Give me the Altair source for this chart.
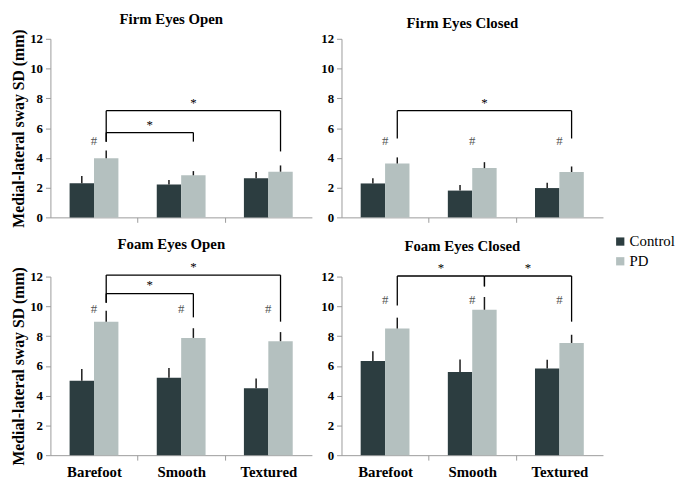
import json
import altair as alt
import pandas as pd

# ---------------- data ----------------
categories = ["Barefoot", "Smooth", "Textured"]
groups = ["Control", "PD"]
panel_titles = ["Firm Eyes Open", "Firm Eyes Closed", "Foam Eyes Open", "Foam Eyes Closed"]
y_ticks = [0, 2, 4, 6, 8, 10, 12]

firm_open_control = [2.30, 2.21, 2.63]
firm_open_control_err = [0.48, 0.31, 0.42]
firm_open_pd = [3.97, 2.83, 3.07]
firm_open_pd_err = [0.53, 0.28, 0.42]

firm_closed_control = [2.28, 1.80, 1.97]
firm_closed_control_err = [0.35, 0.37, 0.35]
firm_closed_pd = [3.62, 3.31, 3.05]
firm_closed_pd_err = [0.41, 0.40, 0.37]

foam_open_control = [5.00, 5.20, 4.50]
foam_open_control_err = [0.79, 0.66, 0.66]
foam_open_pd = [8.97, 7.88, 7.66]
foam_open_pd_err = [0.73, 0.65, 0.61]

foam_closed_control = [6.32, 5.59, 5.83]
foam_closed_control_err = [0.66, 0.84, 0.58]
foam_closed_pd = [8.51, 9.77, 7.54]
foam_closed_pd_err = [0.73, 0.86, 0.55]

# "#" marks (group difference) per category and their height
firm_open_hash = [True, False, False]
firm_closed_hash = [True, True, True]
foam_open_hash = [True, True, True]
foam_closed_hash = [True, True, True]
hash_heights = [5.1, 5.1, 9.85, 10.45]

# "*" brackets: (from category, to category, top, left end, right end, star height)
firm_open_brackets = [("Barefoot", "Smooth", 5.7, 5.09, 5.09, 6.2),
                      ("Barefoot", "Textured", 7.17, 5.09, 4.43, 7.65)]
firm_closed_brackets = [("Barefoot", "Textured", 7.17, 5.3, 5.3, 7.7)]
foam_open_brackets = [("Barefoot", "Smooth", 10.86, 10.25, 9.26, 11.4),
                      ("Barefoot", "Textured", 12.1, 10.25, 8.97, 12.66)]
foam_closed_brackets = [("Barefoot", "Smooth", 12.04, 10.06, 11.34, 12.55),
                        ("Smooth", "Textured", 12.04, 11.34, 8.97, 12.55)]

# ---------------- style ----------------
SERIF = "Liberation Serif"
COLORS = ["#2c3d40", "#b4c0bf"]
BW = 0.28          # bar width in category units
W, H = 265, 181

label_expr = ("datum.value % 1 === 0.5 ? " + json.dumps(categories)
              + "[floor(datum.value)] : ''")

LEGEND = alt.Legend(orient="none", legendX=570, legendY=198, title=None,
                    symbolType="square", symbolSize=70, symbolStrokeWidth=0,
                    labelFont=SERIF, labelFontSize=15, labelColor="black",
                    rowPadding=4, labelOffset=2)


def panel(title, ctrl, ctrl_err, pdv, pd_err, hashes, hash_y, brackets,
          x_labels, y_title, title_offset, title_dy):
    rows = []
    for i, c in enumerate(categories):
        center = i + 0.5
        for g, v, e in ((groups[0], ctrl[i], ctrl_err[i]), (groups[1], pdv[i], pd_err[i])):
            x0 = center - BW if g == groups[0] else center
            rows.append(dict(cat=c, group=g, x=x0, x2=x0 + BW, xc=x0 + BW / 2,
                             value=v, top=v + e))
    bars_df = pd.DataFrame(rows)

    hash_df = pd.DataFrame([dict(x=i + 0.5, y=hash_y, t="#")
                            for i, h in enumerate(hashes) if h])

    segs, stars = [], []
    for a, b, top, ya, yb, sy in brackets:
        xa = categories.index(a) + 0.5 + BW / 2
        xb = categories.index(b) + 0.5 + BW / 2
        segs.append(dict(x=xa, x2=xb, y=top, y2=top))
        segs.append(dict(x=xa, x2=xa, y=top, y2=ya))
        segs.append(dict(x=xb, x2=xb, y=top, y2=yb))
        stars.append(dict(x=(xa + xb) / 2, y=sy, t="*"))
    seg_df = pd.DataFrame(segs)
    star_df = pd.DataFrame(stars)

    x_axis = alt.Axis(
        values=[0, 0.5, 1, 1.5, 2, 2.5, 3], labelExpr=label_expr,
        labels=x_labels, grid=False, labelOverlap=False, labelFlush=False,
        tickOpacity={"condition": {"test": "datum.value === 1 || datum.value === 2",
                                   "value": 1}, "value": 0},
        domainColor="#9a9a9a", tickColor="#9a9a9a", tickSize=5,
        labelFont=SERIF, labelFontSize=15, labelFontWeight="bold",
        labelColor="black", labelPadding=5)
    y_axis = alt.Axis(
        values=y_ticks, grid=False, domainColor="#9a9a9a", tickColor="#9a9a9a",
        tickSize=5, labelFont=SERIF, labelFontSize=13, labelFontWeight="bold",
        labelColor="black", labelPadding=3, labelOverlap=False,
        titleFont=SERIF, titleFontSize=16, titleFontWeight="bold",
        titleColor="black", titlePadding=3)

    xs = alt.Scale(domain=[0, 3], nice=False, zero=False)
    ys = alt.Scale(domain=[0, 12], nice=False)
    ytitle = "Medial-lateral sway SD (mm)" if y_title else None

    def X(f):
        return alt.X(f, scale=xs, axis=x_axis, title=None)

    def Y(f):
        return alt.Y(f, scale=ys, axis=y_axis, title=ytitle)

    bars = alt.Chart(bars_df).mark_bar().encode(
        x=X("x:Q"), x2="x2:Q", y=Y("value:Q"), y2=alt.datum(0),
        color=alt.Color("group:N", scale=alt.Scale(domain=groups, range=COLORS),
                        legend=LEGEND),
    )
    err = alt.Chart(bars_df).mark_rule(color="#1a1a1a", strokeWidth=1.5).encode(
        x=X("xc:Q"), y=Y("value:Q"), y2="top:Q")
    brk = alt.Chart(seg_df).mark_rule(color="black", strokeWidth=1.3).encode(
        x=X("x:Q"), x2="x2:Q", y=Y("y:Q"), y2="y2:Q")
    st = alt.Chart(star_df).mark_text(font=SERIF, fontSize=13, color="black",
                                      baseline="middle").encode(
        x=X("x:Q"), y=Y("y:Q"), text="t:N")
    layers = [bars, err, brk, st]
    if len(hash_df):
        hs = alt.Chart(hash_df).mark_text(font=SERIF, fontSize=13, color="#555",
                                          baseline="middle").encode(
            x=X("x:Q"), y=Y("y:Q"), text="t:N")
        layers.append(hs)
    return alt.layer(*layers).properties(
        width=W, height=H,
        title=alt.TitleParams(title, font=SERIF, fontSize=15, fontWeight="bold",
                              color="black", offset=title_offset, dx=-10,
                              dy=title_dy))


p1 = panel(panel_titles[0], firm_open_control, firm_open_control_err, firm_open_pd,
           firm_open_pd_err, firm_open_hash, hash_heights[0], firm_open_brackets,
           False, True, 2, 0)
p2 = panel(panel_titles[1], firm_closed_control, firm_closed_control_err, firm_closed_pd,
           firm_closed_pd_err, firm_closed_hash, hash_heights[1], firm_closed_brackets,
           False, False, 2, 0)
p3 = panel(panel_titles[2], foam_open_control, foam_open_control_err, foam_open_pd,
           foam_open_pd_err, foam_open_hash, hash_heights[2], foam_open_brackets,
           True, True, 6, -3)
p4 = panel(panel_titles[3], foam_closed_control, foam_closed_control_err, foam_closed_pd,
           foam_closed_pd_err, foam_closed_hash, hash_heights[3], foam_closed_brackets,
           True, False, 6, -3)

chart = alt.concat(p1, p2, p3, p4, columns=2, bounds="flush",
                   spacing={"row": 60, "column": 30}).configure_view(
    stroke=None).properties(
    background="white", padding={"left": 3, "top": 0, "right": 0, "bottom": 0})

chart.save("out.html", embed_options={"renderer": "svg", "actions": False})
